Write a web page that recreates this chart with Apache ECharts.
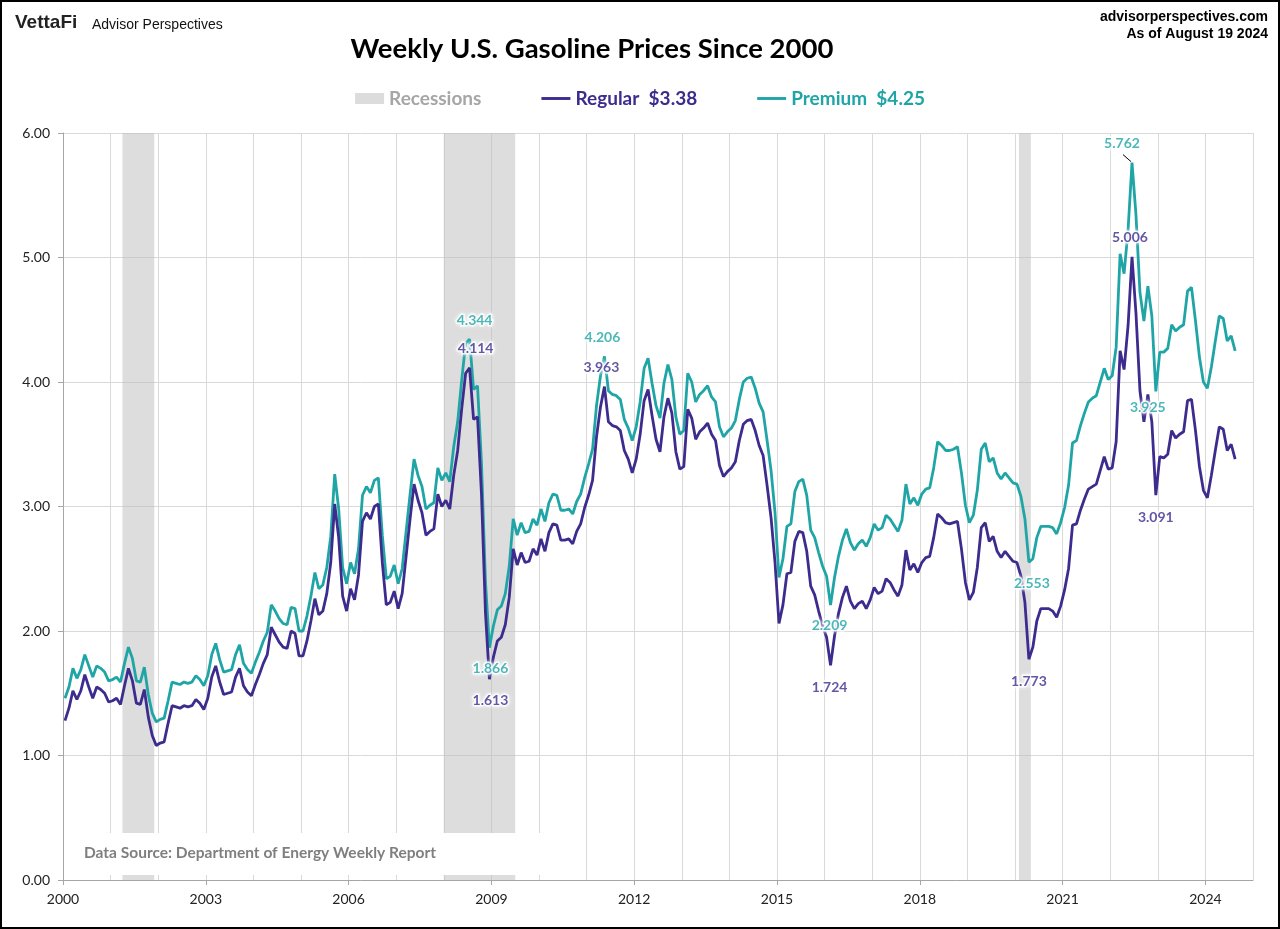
<!DOCTYPE html>
<html>
<head>
<meta charset="utf-8">
<script src="https://cdn.jsdelivr.net/npm/echarts@6/dist/echarts.min.js"></script>
<style>
html,body{margin:0;padding:0;background:#fff;}
#chart{width:1280px;height:929px;}
</style>
</head>
<body>
<div id="chart"></div>
<script>
// ---------------- DATA (monthly readings, Jan 2000 .. Aug 2024) ----------------
const START_YEAR = 2000;
const regular = [
  1.28,1.38,1.52,1.45,1.52,1.65,1.55,1.46,1.55,1.53,1.50,1.43, // 2000
  1.44,1.46,1.41,1.56,1.70,1.60,1.42,1.41,1.53,1.31,1.16,1.08, // 2001
  1.10,1.11,1.26,1.40,1.39,1.38,1.40,1.39,1.40,1.45,1.42,1.37, // 2002
  1.46,1.63,1.72,1.59,1.49,1.50,1.51,1.63,1.70,1.56,1.51,1.48, // 2003
  1.57,1.65,1.74,1.81,2.03,1.97,1.91,1.87,1.86,2.00,1.98,1.80, // 2004
  1.80,1.92,2.08,2.26,2.13,2.16,2.30,2.55,3.02,2.75,2.28,2.16, // 2005
  2.34,2.25,2.45,2.88,2.95,2.90,3.00,3.02,2.55,2.21,2.23,2.32, // 2006
  2.18,2.30,2.60,2.90,3.18,3.05,2.95,2.77,2.80,2.82,3.10,3.00, // 2007
  3.05,2.98,3.25,3.45,3.78,4.07,4.114,3.70,3.72,3.10,2.15,1.613, // 2008
  1.79,1.92,1.95,2.05,2.27,2.66,2.53,2.63,2.55,2.56,2.66,2.61, // 2009
  2.74,2.64,2.79,2.86,2.85,2.73,2.73,2.74,2.70,2.80,2.86,2.99, // 2010
  3.09,3.21,3.56,3.80,3.963,3.68,3.65,3.64,3.61,3.45,3.38,3.27, // 2011
  3.38,3.58,3.85,3.94,3.73,3.54,3.44,3.72,3.87,3.75,3.44,3.30, // 2012
  3.32,3.78,3.71,3.54,3.60,3.63,3.67,3.58,3.53,3.33,3.24,3.28, // 2013
  3.31,3.36,3.53,3.66,3.69,3.70,3.61,3.49,3.41,3.17,2.91,2.55, // 2014
  2.06,2.21,2.46,2.47,2.72,2.80,2.79,2.64,2.36,2.29,2.16,2.04, // 2015
  1.95,1.724,1.96,2.14,2.27,2.36,2.24,2.18,2.22,2.24,2.18,2.25, // 2016
  2.35,2.30,2.32,2.42,2.39,2.33,2.28,2.37,2.65,2.49,2.54,2.47, // 2017
  2.55,2.59,2.60,2.75,2.94,2.91,2.87,2.86,2.87,2.88,2.66,2.39, // 2018
  2.25,2.31,2.51,2.83,2.87,2.72,2.76,2.64,2.59,2.64,2.60,2.56, // 2019
  2.55,2.44,2.23,1.773,1.87,2.08,2.18,2.18,2.18,2.16,2.11,2.20, // 2020
  2.33,2.50,2.85,2.86,2.97,3.06,3.14,3.16,3.18,3.29,3.40,3.30, // 2021
  3.31,3.52,4.25,4.10,4.45,5.006,4.55,3.93,3.68,3.90,3.68,3.091, // 2022
  3.40,3.39,3.42,3.61,3.55,3.58,3.60,3.85,3.86,3.61,3.32,3.13, // 2023
  3.07,3.25,3.45,3.64,3.62,3.45,3.50,3.38                      // 2024
];
const premium = [
  1.46,1.55,1.70,1.62,1.69,1.81,1.72,1.63,1.72,1.70,1.67,1.60, // 2000
  1.61,1.63,1.59,1.74,1.87,1.78,1.60,1.59,1.71,1.49,1.34,1.27, // 2001
  1.29,1.30,1.44,1.59,1.58,1.57,1.59,1.58,1.59,1.64,1.61,1.56, // 2002
  1.64,1.81,1.90,1.77,1.67,1.68,1.69,1.81,1.89,1.74,1.69,1.66, // 2003
  1.75,1.83,1.92,1.99,2.21,2.16,2.10,2.06,2.05,2.19,2.18,2.00, // 2004
  2.00,2.12,2.28,2.47,2.34,2.37,2.51,2.76,3.26,2.98,2.51,2.38, // 2005
  2.55,2.46,2.66,3.09,3.16,3.11,3.21,3.23,2.77,2.42,2.44,2.53, // 2006
  2.38,2.50,2.80,3.10,3.38,3.25,3.16,2.98,3.01,3.03,3.31,3.21, // 2007
  3.27,3.20,3.48,3.68,4.01,4.31,4.344,3.94,3.97,3.35,2.40,1.866, // 2008
  2.04,2.17,2.20,2.30,2.52,2.90,2.77,2.87,2.79,2.80,2.90,2.85, // 2009
  2.98,2.88,3.03,3.10,3.09,2.97,2.97,2.98,2.94,3.04,3.10,3.23, // 2010
  3.34,3.46,3.81,4.05,4.206,3.93,3.90,3.89,3.86,3.70,3.63,3.53, // 2011
  3.64,3.84,4.11,4.19,3.99,3.81,3.71,3.99,4.14,4.02,3.72,3.58, // 2012
  3.61,4.07,4.00,3.84,3.90,3.93,3.97,3.88,3.84,3.64,3.56,3.60, // 2013
  3.63,3.69,3.86,4.00,4.03,4.04,3.95,3.83,3.76,3.53,3.29,2.95, // 2014
  2.43,2.58,2.84,2.86,3.12,3.20,3.22,3.09,2.81,2.75,2.63,2.52, // 2015
  2.44,2.209,2.43,2.60,2.73,2.82,2.71,2.65,2.70,2.73,2.68,2.75, // 2016
  2.86,2.81,2.83,2.93,2.90,2.85,2.80,2.89,3.18,3.02,3.07,3.01, // 2017
  3.10,3.14,3.15,3.31,3.52,3.49,3.45,3.45,3.46,3.48,3.27,3.01, // 2018
  2.87,2.93,3.13,3.46,3.51,3.36,3.39,3.27,3.22,3.27,3.23,3.19, // 2019
  3.18,3.08,2.90,2.553,2.58,2.75,2.84,2.84,2.84,2.83,2.78,2.87, // 2020
  2.99,3.17,3.51,3.53,3.65,3.75,3.84,3.87,3.89,4.00,4.11,4.02, // 2021
  4.05,4.28,5.03,4.87,5.22,5.762,5.34,4.72,4.49,4.77,4.53,3.925, // 2022
  4.24,4.24,4.27,4.46,4.41,4.44,4.46,4.73,4.76,4.49,4.20,4.00, // 2023
  3.95,4.12,4.33,4.53,4.51,4.33,4.37,4.25                      // 2024
];
const recessions = [['2001-04','2001-11'],['2008-01','2009-06'],['2020-02','2020-04']];
const yearTicks = [2000,2003,2006,2009,2012,2015,2018,2021,2024];
const annotations = [
  ['premium','2008-07'],['regular','2008-07'],
  ['premium','2011-05'],['regular','2011-05'],
  ['premium','2008-12'],['regular','2008-12'],
  ['premium','2016-02'],['regular','2016-02'],
  ['premium','2020-04'],['regular','2020-04'],
  ['premium','2022-06'],['regular','2022-06'],
  ['premium','2022-12'],['regular','2022-12']
];
const titleText = 'Weekly U.S. Gasoline Prices Since 2000';
const asOfText = 'As of August 19 2024';
const sourceText = 'Data Source: Department of Energy Weekly Report';

// ---------------- STYLE ----------------
const C_REG = '#3d2b8e';
const C_PRE = '#20a5a6';
const C_REC = '#dcdcdc';
const GRID_C = '#d9d9d9';
const AXIS_C = '#a6a6a6';
const CAL = 'Lato, "Open Sans", sans-serif';
const ARIAL = '"Liberation Sans", Arial, sans-serif';
const LINE_ICON = 'path://M0,0h30v3h-30z';
// label offsets (px) for each annotation, same order as annotations
const annOffsets = [
  [5,-19],[6,-19],
  [-2,-19],[-3,-19],
  [1,21],[1,21],
  [-1,21],[-1,22],
  [3,21],[0,22],
  [-10,-19],[-2,-19],
  [-8,16],[0,22]
];

// ---------------- BUILD ----------------
const monthIndex = s => { const [y,m] = s.split('-').map(Number); return (y-START_YEAR)*12 + (m-1); };
const xOf = i => START_YEAR + (i + 0.5) / 12;
const toPairs = arr => arr.map((v,i) => [xOf(i), v]);
const regData = toPairs(regular);
const preData = toPairs(premium);
const seriesArr = {regular: regular, premium: premium};

const recAreas = recessions.map(([a,b]) => {
  const [ya,ma] = a.split('-').map(Number);
  const [yb,mb] = b.split('-').map(Number);
  return [{xAxis: ya + (ma-1)/12}, {xAxis: yb + mb/12}];
});

const annData = annotations.map(([s,m],k) => {
  const i = monthIndex(m);
  return {
    value: [xOf(i), seriesArr[s][i]],
    label: {offset: annOffsets[k], color: s === 'regular' ? C_REG : C_PRE}
  };
});

const chart = echarts.init(document.getElementById('chart'), null, {renderer: 'canvas'});

const graphics = [
  {id:'frame', type:'rect', z:200, silent:true, shape:{x:1,y:1,width:1278,height:927}, style:{fill:'none', stroke:'#000', lineWidth:2}},
  {id:'logo', type:'text', left:15, top:13, style:{text:'VettaFi', font:'bold 19px ' + ARIAL, fill:'#222'}},
  {id:'ap', type:'text', left:92, top:18, style:{text:'Advisor Perspectives', font:'14px ' + ARIAL, fill:'#111'}},
  {id:'site', type:'text', right:12, top:10, style:{text:'advisorperspectives.com', font:'bold 14px ' + ARIAL, fill:'#000', align:'right'}},
  {id:'asof', type:'text', right:12, top:27, style:{text:asOfText, font:'bold 14px ' + ARIAL, fill:'#000', align:'right'}},
  {id:'srcbox', type:'rect', z:50, silent:true, shape:{x:64, y:833, width:480, height:42}, style:{fill:'#fff'}},
  {id:'src', type:'text', z:51, left:84, top:845, style:{text:sourceText, font:'bold 15.5px ' + CAL, fill:'#7f7f7f'}}
];

const option = {
  backgroundColor: '#fff',
  animation: false,
  title: {
    text: titleText, left: 587, top: 30, textAlign: 'center',
    textStyle: {fontFamily: CAL, fontWeight: 'bold', fontSize: 27.5, color: '#000'}
  },
  legend: {
    top: 84, left: 'center', itemWidth: 29, itemHeight: 11, itemGap: 60,
    selectedMode: false,
    textStyle: {fontFamily: CAL, fontWeight: 'bold', fontSize: 19},
    formatter: name => {
      if (name === 'Regular') return 'Regular  $' + regular[regular.length-1].toFixed(2);
      if (name === 'Premium') return 'Premium  $' + premium[premium.length-1].toFixed(2);
      return name;
    },
    data: [
      {name:'Recessions', icon:'rect', itemStyle:{color:C_REC}, textStyle:{color:'#a6a6a6'}},
      {name:'Regular', icon: LINE_ICON, itemStyle:{color:C_REG}, textStyle:{color:C_REG}},
      {name:'Premium', icon: LINE_ICON, itemStyle:{color:C_PRE}, textStyle:{color:C_PRE}}
    ]
  },
  grid: {left: 63, right: 27, top: 133, bottom: 49},
  xAxis: [
    {
      type: 'value', min: 2000, max: 2025, interval: 1,
      axisLine: {show: false}, axisTick: {show: false}, axisLabel: {show: false},
      splitLine: {show: true, lineStyle: {color: GRID_C, width: 1}}
    },
    {
      type: 'value', min: 2000, max: 2025, position: 'bottom',
      axisLine: {show: true, lineStyle: {color: AXIS_C, width: 1}},
      axisTick: {show: true, length: 5, lineStyle: {color: AXIS_C}, customValues: yearTicks},
      axisLabel: {show: true, customValues: yearTicks, margin: 12, fontFamily: CAL, fontSize: 14, color: '#222', formatter: v => String(v)},
      splitLine: {show: false}
    }
  ],
  yAxis: {
    type: 'value', min: 0, max: 6, interval: 1,
    axisLine: {show: true, lineStyle: {color: AXIS_C, width: 1}},
    axisTick: {show: true, length: 5, lineStyle: {color: AXIS_C}},
    axisLabel: {fontFamily: CAL, fontSize: 14, color: '#222', margin: 13, formatter: v => v.toFixed(2)},
    splitLine: {show: true, lineStyle: {color: GRID_C, width: 1}}
  },
  graphic: {elements: graphics},
  series: [
    {
      name: 'Recessions', type: 'line', data: [], color: C_REC, xAxisIndex: 0,
      markArea: {silent: true, itemStyle: {color: 'rgba(190,190,190,0.52)'}, data: recAreas}
    },
    {
      name: 'Premium', type: 'line', data: preData, color: C_PRE, xAxisIndex: 0,
      symbol: 'none', lineStyle: {width: 2.8, color: C_PRE}, z: 3
    },
    {
      name: 'Regular', type: 'line', data: regData, color: C_REG, xAxisIndex: 0,
      symbol: 'none', lineStyle: {width: 2.8, color: C_REG}, z: 4
    },
    {
      name: 'peaks', type: 'scatter', data: annData, xAxisIndex: 0, symbolSize: 0, z: 20, silent: true,
      label: {
        show: true, position: 'inside', fontFamily: CAL, fontWeight: 'bold', fontSize: 14,
        textBorderColor: '#fff', textBorderWidth: 3, textShadowColor: '#fff', textShadowBlur: 4,
        formatter: p => p.value[1].toFixed(3)
      }
    }
  ]
};
chart.setOption(option);

// leader line for premium 2022 peak label
const pk = annData[10].value;
const pp = chart.convertToPixel({gridIndex: 0}, pk);
chart.setOption({graphic: {elements: [
  {id:'leader', type:'line', z:30, silent:true, shape:{x1: pp[0]-9, y1: pp[1]-8, x2: pp[0]-1, y2: pp[1]-1}, style:{stroke:'#000', lineWidth:1}}
]}});
</script>
</body>
</html>
